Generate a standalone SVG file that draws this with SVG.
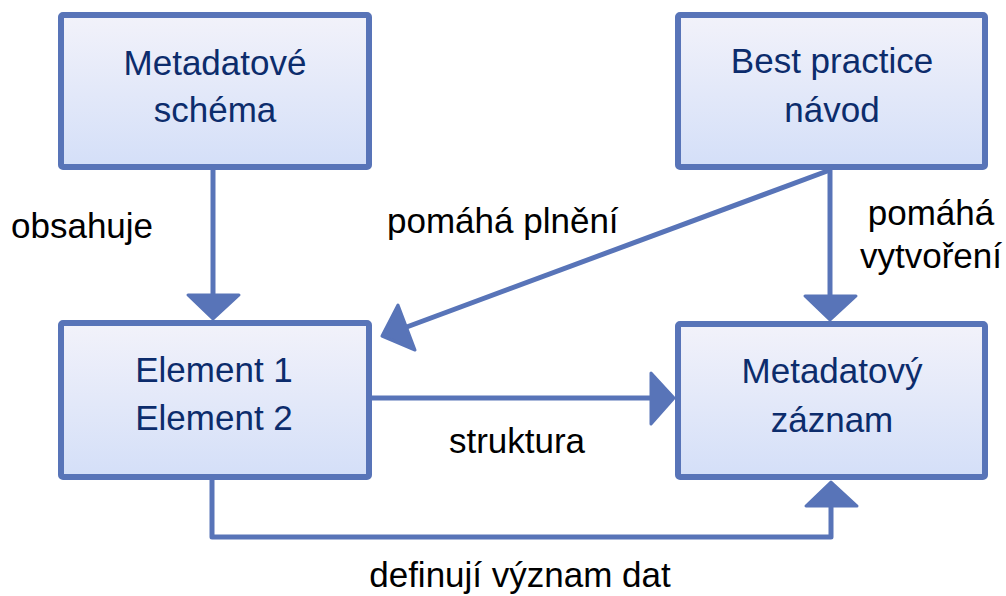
<svg xmlns="http://www.w3.org/2000/svg" width="1006" height="596" viewBox="0 0 1006 596">
  <style>
    .box { fill: url(#boxFill); stroke: #5874b8; stroke-width: 6; }
    .node-text { font-family: "Liberation Sans", Arial, sans-serif; font-size: 35px; fill: #0c2c6c; text-anchor: middle; }
    .label { font-family: "Liberation Sans", Arial, sans-serif; font-size: 35px; fill: #000000; }
    .wire { fill: none; stroke: #5874b8; stroke-width: 5; stroke-linejoin: round; }
    .head { fill: #5874b8; stroke: #5874b8; stroke-width: 3; stroke-linejoin: round; }
  </style>
  <defs>
    <linearGradient id="boxFill" x1="0" y1="0" x2="0" y2="1">
      <stop offset="0" stop-color="#f2f2fa"/>
      <stop offset="1" stop-color="#d4dff8"/>
    </linearGradient>
  </defs>
  <rect width="1006" height="596" fill="#ffffff"/>

  <!-- connectors -->
  <g id="connectors">
    <!-- schema contains elements -->
    <line class="wire" x1="213" y1="170" x2="213" y2="296"/>
    <polygon class="head" points="188,295 239,295 213,319"/>
    <!-- guide helps filling -->
    <line class="wire" x1="830" y1="170" x2="404" y2="328"/>
    <polygon class="head" points="398,305 415,350 382,336"/>
    <!-- guide helps creating -->
    <line class="wire" x1="830" y1="170" x2="830" y2="297"/>
    <polygon class="head" points="805,296 856,296 830,320"/>
    <!-- structure -->
    <line class="wire" x1="372" y1="398" x2="652" y2="398"/>
    <polygon class="head" points="651,373 651,424 674,398"/>
    <!-- define meaning of data -->
    <polyline class="wire" points="212,480 212,537 831,537 831,506"/>
    <polygon class="head" points="806,506 857,506 831,482"/>
  </g>

  <g id="node-schema">
    <rect class="box" x="61" y="15" width="308" height="152" rx="2"/>
    <text class="node-text" x="215" y="75">Metadatové</text>
    <text class="node-text" x="215" y="122">schéma</text>
  </g>

  <g id="node-guide">
    <rect class="box" x="678" y="15" width="307" height="152" rx="2"/>
    <text class="node-text" x="832" y="73">Best practice</text>
    <text class="node-text" x="832" y="122">návod</text>
  </g>

  <g id="node-elements">
    <rect class="box" x="61" y="323" width="308" height="154" rx="2"/>
    <text class="node-text" x="214" y="382">Element 1</text>
    <text class="node-text" x="214" y="430">Element 2</text>
  </g>

  <g id="node-record">
    <rect class="box" x="678" y="324" width="307" height="153" rx="2"/>
    <text class="node-text" x="832" y="383">Metadatový</text>
    <text class="node-text" x="832" y="432">záznam</text>
  </g>

  <g id="labels">
    <text class="label" x="11" y="238">obsahuje</text>
    <text class="label" x="387" y="233">pomáhá plnění</text>
    <text class="label" x="931" y="225" text-anchor="middle">pomáhá</text>
    <text class="label" x="931" y="268" text-anchor="middle">vytvoření</text>
    <text class="label" x="517" y="453" text-anchor="middle">struktura</text>
    <text class="label" x="520" y="587" text-anchor="middle">definují význam dat</text>
  </g>
</svg>
